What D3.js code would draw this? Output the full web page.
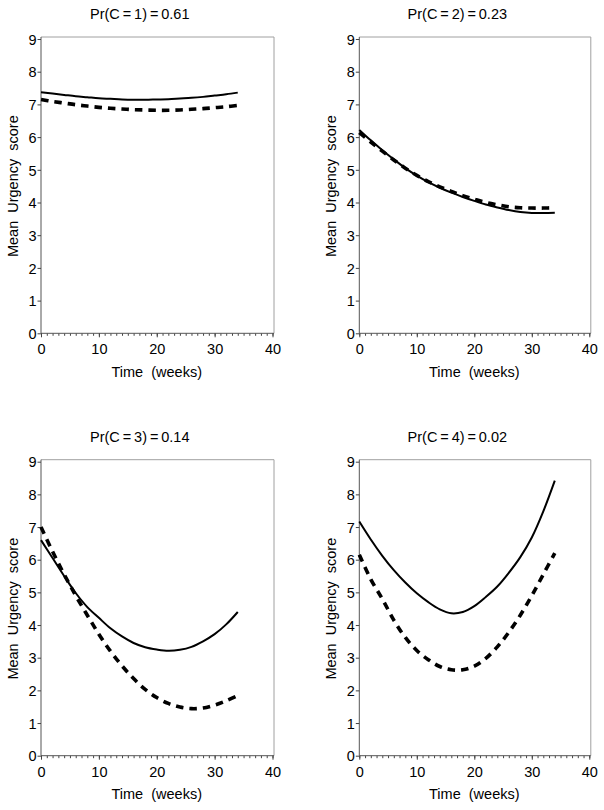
<!DOCTYPE html>
<html><head><meta charset="utf-8">
<script src="https://cdn.jsdelivr.net/npm/d3@7"></script>
<style>
body{margin:0;background:#fff}
svg{display:block}
text{font-family:"Liberation Sans",Arial,Helvetica,sans-serif;fill:#000}
</style>
</head><body>
<svg id="chart" width="604" height="810"></svg>
<script>
// ---- data ----
const weeks = [0,2,4,6,8,10,12,14,16,18,20,22,24,26,28,30,32,34];
const titles = ["Pr(C\u2009=\u20091)\u2009=\u20090.61","Pr(C\u2009=\u20092)\u2009=\u20090.23","Pr(C\u2009=\u20093)\u2009=\u20090.14","Pr(C\u2009=\u20094)\u2009=\u20090.02"];
const solid1  = [7.37,7.33,7.29,7.25,7.22,7.19,7.17,7.15,7.14,7.14,7.15,7.16,7.18,7.20,7.23,7.27,7.31,7.36];
const dashed1 = [7.15,7.09,7.04,6.99,6.95,6.91,6.88,6.86,6.84,6.83,6.82,6.82,6.83,6.85,6.87,6.90,6.93,6.97];
const solid2  = [6.22,5.90,5.60,5.32,5.05,4.82,4.62,4.45,4.30,4.17,4.05,3.94,3.85,3.77,3.71,3.68,3.68,3.69];
const dashed2 = [6.14,5.85,5.57,5.30,5.05,4.83,4.64,4.48,4.34,4.21,4.10,4.00,3.93,3.87,3.84,3.83,3.83,3.84];
const solid3  = [6.60,6.05,5.50,4.98,4.55,4.22,3.90,3.65,3.45,3.32,3.25,3.21,3.24,3.33,3.50,3.72,4.02,4.40];
const dashed3 = [7.00,6.25,5.55,4.90,4.30,3.72,3.20,2.75,2.36,2.03,1.78,1.60,1.49,1.44,1.46,1.55,1.68,1.84];
const solid4  = [7.17,6.62,6.12,5.68,5.30,4.97,4.70,4.48,4.36,4.40,4.58,4.86,5.18,5.60,6.08,6.68,7.48,8.42];
const dashed4 = [6.15,5.40,4.80,4.15,3.62,3.22,2.94,2.73,2.63,2.63,2.74,2.98,3.33,3.78,4.30,4.90,5.55,6.20];
const solidSeries  = [solid1, solid2, solid3, solid4];
const dashedSeries = [dashed1, dashed2, dashed3, dashed4];
const xTicks = [0,10,20,30,40];
const xMinorTicks = d3.range(0,41,1);
const yTicks = [0,1,2,3,4,5,6,7,8,9];
const xLabel = "Time  (weeks)";
const yLabel = "Mean  Urgency  score";

// ---- layout ----
const cols = [{x0:41, x1:272.5},{x0:359.3, x1:589.3}];
const rows = [{yTop:39, yBot:333.3, titleY:19},{yTop:461.7, yBot:755.7, titleY:442}];

const svg = d3.select("#chart");

for (let p = 0; p < 4; p++) {
  const c = cols[p % 2], r = rows[Math.floor(p / 2)];
  const x = d3.scaleLinear().domain([0,40]).range([c.x0, c.x1]);
  const y = d3.scaleLinear().domain([0,9]).range([r.yBot, r.yTop]);
  const g = svg.append("g");

  // frame (top/right light gray)
  g.append("line").attr("x1", c.x0).attr("x2", c.x1 + 1.5).attr("y1", r.yTop - 2).attr("y2", r.yTop - 2)
    .attr("stroke", "#a0a0a0").attr("stroke-width", 1);
  g.append("line").attr("x1", c.x1 + 1.5).attr("x2", c.x1 + 1.5).attr("y1", r.yTop - 2).attr("y2", r.yBot)
    .attr("stroke", "#a0a0a0").attr("stroke-width", 1);

  // x axis minor ticks
  const xMinor = d3.axisBottom(x).tickValues(xMinorTicks).tickSize(2.5).tickFormat("");
  const gm = g.append("g").attr("transform", `translate(0,${r.yBot})`).call(xMinor);
  gm.select(".domain").remove();
  gm.selectAll("line").attr("stroke", "#444");

  // x axis major
  const xAxis = d3.axisBottom(x).tickValues(xTicks).tickSize(4).tickPadding(4).tickFormat(d3.format("d"));
  const gx = g.append("g").attr("transform", `translate(0,${r.yBot})`).call(xAxis);
  gx.select(".domain").attr("d", `M${c.x0},0H${c.x1 + 1.5}`).attr("stroke", "#555");
  gx.selectAll("line").attr("stroke", "#444");
  gx.selectAll("text").attr("font-size", 14.5).attr("font-family", "Liberation Sans, Arial, sans-serif")
    .attr("fill", "#000").attr("dy", null).attr("y", 21);

  // y axis
  const yAxis = d3.axisLeft(y).tickValues(yTicks).tickSize(3.5).tickPadding(1).tickFormat(d3.format("d"));
  const gy = g.append("g").attr("transform", `translate(${c.x0},0)`).call(yAxis);
  gy.select(".domain").attr("d", `M0,${r.yTop - 2}V${r.yBot}`).attr("stroke", "#555");
  gy.selectAll("line").attr("stroke", "#444");
  gy.selectAll("text").attr("font-size", 14.5).attr("font-family", "Liberation Sans, Arial, sans-serif")
    .attr("fill", "#000").attr("dy", "0.36em");

  // lines
  const line = d3.line().x((d, i) => x(weeks[i])).y(d => y(d)).curve(d3.curveCatmullRom.alpha(0.5));
  g.append("path").datum(solidSeries[p]).attr("d", line).attr("fill", "none")
    .attr("stroke", "#000").attr("stroke-width", 2);
  g.append("path").datum(dashedSeries[p]).attr("d", line).attr("fill", "none")
    .attr("stroke", "#000").attr("stroke-width", 3.6).attr("stroke-dasharray", "7.5,6");

  // title
  const cx = (c.x0 + c.x1) / 2;
  g.append("text").attr("x", cx - 17).attr("y", r.titleY).attr("text-anchor", "middle")
    .attr("font-size", 14.5).text(titles[p]);

  // x label
  g.append("text").attr("x", cx).attr("y", r.yBot + 43.5).attr("text-anchor", "middle")
    .attr("font-size", 14.5).style("white-space", "pre").text(xLabel);

  // y label
  const cy = (r.yTop + r.yBot) / 2;
  g.append("text").attr("transform", `translate(${c.x0 - 23},${cy}) rotate(-90)`)
    .attr("text-anchor", "middle").attr("font-size", 14.5).style("white-space", "pre").text(yLabel);
}
</script>
</body></html>
